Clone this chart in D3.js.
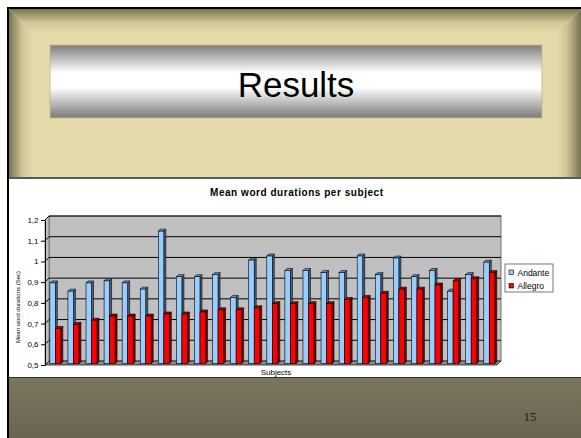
<!DOCTYPE html>
<html><head><meta charset="utf-8">
<script src="https://cdn.jsdelivr.net/npm/d3@7"></script>
<style>html,body{margin:0;padding:0;background:#fff;overflow:hidden}svg{display:block}</style>
</head><body>
<script>
// Mean word duration (sec) for each subject, two tempo conditions
const subjects = [1,2,3,4,5,6,7,8,9,10,11,12,13,14,15,16,17,18,19,20,21,22,23,24,25];
const andante = [0.89,0.85,0.89,0.90,0.89,0.86,1.14,0.92,0.92,0.93,0.82,1.00,1.02,0.95,0.95,0.94,0.94,1.02,0.93,1.01,0.92,0.95,0.85,0.93,0.99];
const allegro = [0.67,0.69,0.71,0.73,0.73,0.73,0.74,0.74,0.75,0.76,0.76,0.77,0.79,0.79,0.79,0.79,0.81,0.82,0.84,0.86,0.86,0.88,0.90,0.91,0.94];
const seriesNames = ["Andante","Allegro"];
const yTicks = [0.5,0.6,0.7,0.8,0.9,1.0,1.1,1.2];

const W = 581, H = 438;
const FONT = "'Liberation Sans', Arial, sans-serif";
const svg = d3.select("body").append("svg").attr("width", W).attr("height", H);
const defs = svg.append("defs");

function grad(id, x1, y1, x2, y2, stops) {
  const g = defs.append("linearGradient").attr("id", id)
    .attr("x1", x1).attr("y1", y1).attr("x2", x2).attr("y2", y2);
  stops.forEach(([o, c]) => g.append("stop").attr("offset", o).attr("stop-color", c));
}
const tan = "#e4dbaa", edge = "#77714f";
grad("bevTop", 0, 0, 0, 1, [[0, edge], [0.55, "#cfc697"], [1, tan]]);
grad("bevLeft", 0, 0, 1, 0, [[0, edge], [0.55, "#cfc697"], [1, tan]]);
grad("bevRight", 1, 0, 0, 0, [[0, edge], [0.55, "#c9c091"], [1, tan]]);
grad("titleBox", 0, 0, 0, 1, [[0, "#7c7c7c"], [0.38, "#ffffff"], [0.58, "#ffffff"], [1, "#7a7a7a"]]);
grad("olive", 0, 0, 0, 1, [[0, "#7b7660"], [1, "#6a6550"]]);

// ---- slide frame ----
svg.append("rect").attr("x", 9).attr("y", 9).attr("width", W - 9).attr("height", 168).attr("fill", tan);
svg.append("polygon").attr("points", "9,9 581,9 557,33 33,33").attr("fill", "url(#bevTop)");
svg.append("polygon").attr("points", "9,9 33,33 33,177 9,177").attr("fill", "url(#bevLeft)");
svg.append("polygon").attr("points", "581,9 557,33 557,177 581,177").attr("fill", "url(#bevRight)");
svg.append("rect").attr("x", 7).attr("y", 7).attr("width", W - 7).attr("height", 2).attr("fill", "#000");
svg.append("rect").attr("x", 7).attr("y", 7).attr("width", 2).attr("height", H - 7).attr("fill", "#000");

// title panel
svg.append("rect").attr("x", 50).attr("y", 45).attr("width", 492).attr("height", 73)
  .attr("fill", "url(#titleBox)").attr("stroke", "#cdbb82").attr("stroke-width", 1);
svg.append("text").attr("x", 296).attr("y", 97).attr("text-anchor", "middle")
  .attr("font-family", FONT).attr("font-size", 35).attr("fill", "#000").text("Results");

// chart area and footer
svg.append("rect").attr("x", 9).attr("y", 177).attr("width", W - 9).attr("height", 201).attr("fill", "#fff");
svg.append("line").attr("x1", 9).attr("x2", W).attr("y1", 178).attr("y2", 178).attr("stroke", "#222").attr("stroke-width", 1.5);
svg.append("rect").attr("x", 9).attr("y", 378).attr("width", W - 9).attr("height", H - 378).attr("fill", "url(#olive)");
svg.append("line").attr("x1", 9).attr("x2", W).attr("y1", 377.5).attr("y2", 377.5).attr("stroke", "#333").attr("stroke-width", 1);
svg.append("text").attr("x", 530).attr("y", 421).attr("text-anchor", "middle")
  .attr("font-family", "'Liberation Serif', 'Times New Roman', serif").attr("font-size", 13)
  .attr("fill", "#1e1e1e").text("15");

// ---- chart ----
const DX = 4, DY = -4;            // depth offset from front plane to back wall
const y = d3.scaleLinear().domain([0.5, 1.2]).range([365, 220]);
const x = d3.scaleBand().domain(subjects).range([45, 497]).paddingInner(0.392).paddingOuter(0.196);
const x1 = d3.scaleBand().domain(seriesNames).range([0, x.bandwidth()]);
const chart = svg.append("g");

chart.append("text").attr("x", 210).attr("y", 195.5)
  .attr("font-family", FONT).attr("font-size", 10).attr("font-weight", "bold")
  .attr("textLength", 173).attr("lengthAdjust", "spacing").text("Mean word durations per subject");

const y0 = y(0.5), yTop = y(1.2), xL = 45, xR = 497;
// back wall and side wall
chart.append("rect").attr("x", xL + DX).attr("y", yTop + DY).attr("width", xR - xL).attr("height", y0 - yTop)
  .attr("fill", "#c0c0c0").attr("stroke", "#555").attr("stroke-width", 0.8);
chart.append("polygon")
  .attr("points", [[xL, y0], [xL, yTop], [xL + DX, yTop + DY], [xL + DX, y0 + DY]].join(" "))
  .attr("fill", "#c0c0c0").attr("stroke", "#555").attr("stroke-width", 0.6);
// gridlines across side and back wall
chart.selectAll("path.grid").data(yTicks.slice(1)).join("path").attr("class", "grid")
  .attr("d", v => `M${xL},${y(v)}L${xL + DX},${y(v) + DY}L${xR + DX},${y(v) + DY}`)
  .attr("fill", "none").attr("stroke", "#000").attr("stroke-width", 1);
// floor
chart.append("polygon")
  .attr("points", [[xL, y0], [xL + DX, y0 + DY], [xR + DX, y0 + DY], [xR, y0]].join(" "))
  .attr("fill", "#8a8a8a").attr("stroke", "#000").attr("stroke-width", 0.7);

// bars
const colors = {
  Andante: { front: "#99ccff", top: "#7097bd", side: "#4a6580" },
  Allegro: { front: "#ff0000", top: "#b80000", side: "#7a0000" }
};
const F = 1.3, B = 3.3;   // bar front / back depth
const rows = [];
subjects.forEach((s, i) => {
  rows.push({ s, name: "Andante", v: andante[i] });
  rows.push({ s, name: "Allegro", v: allegro[i] });
});
const bw = x1.bandwidth();
const bars = chart.selectAll("g.bar").data(rows).join("g").attr("class", "bar");
bars.each(function (d) {
  const g = d3.select(this);
  const c = colors[d.name];
  const xl = x(d.s) + x1(d.name) + F;
  const yt = y(d.v) - F, yb = y0 - F, dd = B - F;
  g.append("path").attr("d", `M${xl + bw},${yt}L${xl + bw + dd},${yt - dd}L${xl + bw + dd},${yb - dd}L${xl + bw},${yb}Z`)
    .attr("fill", c.side).attr("stroke", "#000").attr("stroke-width", 0.6);
  g.append("path").attr("d", `M${xl},${yt}L${xl + bw},${yt}L${xl + bw + dd},${yt - dd}L${xl + dd},${yt - dd}Z`)
    .attr("fill", c.top).attr("stroke", "#000").attr("stroke-width", 0.6);
  g.append("rect").attr("x", xl).attr("y", yt).attr("width", bw).attr("height", yb - yt)
    .attr("fill", c.front).attr("stroke", "#000").attr("stroke-width", 0.6);
});

// value axis
const fmt = v => d3.format("~g")(v).replace(".", ",");
const axis = chart.append("g").attr("transform", `translate(${xL},0)`)
  .call(d3.axisLeft(y).tickValues(yTicks).tickFormat(fmt).tickSize(4).tickSizeOuter(0).tickPadding(2.5));
axis.selectAll("path,line").attr("stroke", "#000");
axis.selectAll("text").attr("font-family", FONT).attr("font-size", 8).attr("fill", "#000");

chart.append("text").attr("transform", "translate(20,307) rotate(-90)").attr("text-anchor", "middle")
  .attr("font-family", FONT).attr("font-size", 6).attr("fill", "#000").text("Mean word durations (Sec)");
chart.append("text").attr("x", 276).attr("y", 375).attr("text-anchor", "middle")
  .attr("font-family", FONT).attr("font-size", 8).attr("fill", "#000").text("Subjects");

// legend
const lg = chart.append("g").attr("transform", "translate(505,264)");
lg.append("rect").attr("width", 48).attr("height", 28).attr("fill", "#fff").attr("stroke", "#555").attr("stroke-width", 0.8);
seriesNames.forEach((n, i) => {
  lg.append("rect").attr("x", 4).attr("y", 6 + i * 13.5).attr("width", 4.5).attr("height", 4.5)
    .attr("fill", colors[n].front).attr("stroke", "#000").attr("stroke-width", 0.6);
  lg.append("text").attr("x", 12.5).attr("y", 11.5 + i * 13.5)
    .attr("font-family", FONT).attr("font-size", 8.5).attr("fill", "#000").text(n);
});
</script>
</body></html>
